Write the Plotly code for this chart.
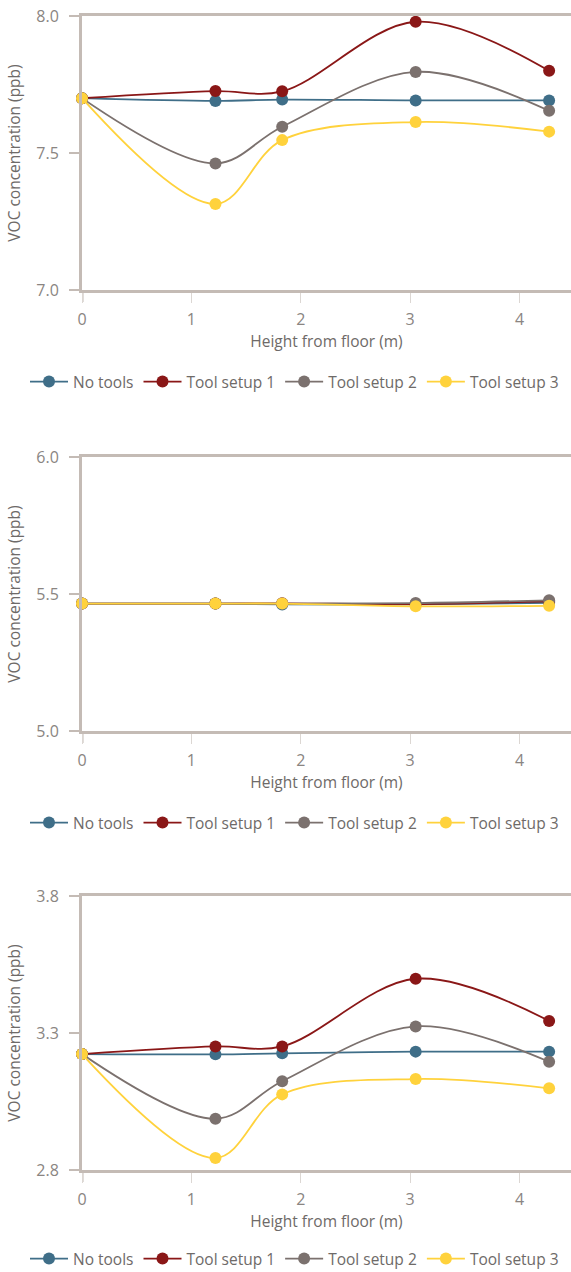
import plotly.graph_objects as go

# Measurement heights (m)
heights = [0, 1.22, 1.83, 3.05, 4.27]

series_names = ["No tools", "Tool setup 1", "Tool setup 2", "Tool setup 3"]
series_colors = ["#3f6e88", "#8a1717", "#7b716e", "#ffd23c"]

# Panel 1 — VOC concentration (ppb)
p1_no_tools = [7.70, 7.69, 7.695, 7.692, 7.692]
p1_setup1 = [7.70, 7.726, 7.725, 7.979, 7.80]
p1_setup2 = [7.70, 7.462, 7.596, 7.796, 7.654]
p1_setup3 = [7.70, 7.314, 7.547, 7.613, 7.578]

# Panel 2
p2_no_tools = [5.465, 5.465, 5.462, 5.462, 5.468]
p2_setup1 = [5.465, 5.465, 5.466, 5.463, 5.473]
p2_setup2 = [5.465, 5.465, 5.465, 5.467, 5.477]
p2_setup3 = [5.465, 5.465, 5.465, 5.455, 5.457]

# Panel 3
p3_no_tools = [3.223, 3.222, 3.226, 3.232, 3.232]
p3_setup1 = [3.223, 3.251, 3.251, 3.498, 3.344]
p3_setup2 = [3.223, 2.987, 3.124, 3.324, 3.195]
p3_setup3 = [3.223, 2.844, 3.076, 3.132, 3.098]

panels = [
    [p1_no_tools, p1_setup1, p1_setup2, p1_setup3],
    [p2_no_tools, p2_setup1, p2_setup2, p2_setup3],
    [p3_no_tools, p3_setup1, p3_setup2, p3_setup3],
]
y_ranges = [[7.0, 8.0], [5.0, 6.0], [2.8, 3.8]]
y_ticks = [[7.0, 7.5, 8.0], [5.0, 5.5, 6.0], [2.8, 3.3, 3.8]]
y_ticklabels = [["7.0", "7.5", "8.0"], ["5.0", "5.5", "6.0"], ["2.8", "3.3", "3.8"]]

x_ticks = [0, 1, 2, 3, 4]

FONT = "Open Sans"
TEXT = "#6e6a68"
TICKTEXT = "#8a8582"
AXIS = "#c4bbb5"
TICK_LIGHT = "#dcd7d3"

W, H = 571, 1272
M_T, M_B = 16, 102
AXIS_LEFT = 82  # left edge of each plotting area, px
plot_h = H - M_T - M_B

def py(pix):
    # pixel row -> paper y
    return (H - M_B - pix) / plot_h

def px(pix):
    # pixel column -> paper x
    return pix / W

domains = [[py(290), 1.0], [py(731), py(457)], [0.0, py(896)]]
legend_y = [py(382), py(823), py(1259)]

fig = go.Figure()
layout = dict(
    width=W, height=H,
    margin=dict(t=M_T, b=M_B, l=0, r=0, autoexpand=False),
    paper_bgcolor="white", plot_bgcolor="white",
    font=dict(family=FONT, color=TEXT, size=15),
    hovermode=False,
)

shapes = []
for i, data in enumerate(panels):
    n = "" if i == 0 else str(i + 1)
    xa, ya = "x" + n, "y" + n
    leg = "legend" + n
    for name, color, vals in zip(series_names, series_colors, data):
        fig.add_trace(go.Scatter(
            x=heights, y=vals, name=name, mode="lines+markers",
            line=dict(color=color, width=1.8, shape="spline", smoothing=1),
            marker=dict(color=color, size=12),
            xaxis=xa, yaxis=ya, legend=leg, cliponaxis=False,
        ))
    layout["xaxis" + n] = dict(
        domain=[px(AXIS_LEFT), 1], anchor=ya, range=[0, 4.47], automargin=False,
        tickvals=x_ticks, ticktext=[str(t) for t in x_ticks],
        showgrid=False, zeroline=False,
        showline=True, linecolor=AXIS, linewidth=3, mirror=True,
        ticks="outside", ticklen=10, tickwidth=1, tickcolor=TICK_LIGHT,
        ticklabelstandoff=3,
        tickfont=dict(size=16, color=TICKTEXT),
        title=dict(text="Height from floor (m)", font=dict(size=15.5, color=TEXT), standoff=2),
    )
    layout["yaxis" + n] = dict(
        domain=domains[i], anchor=xa, range=y_ranges[i], automargin=False,
        tickvals=y_ticks[i], ticktext=y_ticklabels[i],
        showgrid=False, zeroline=False,
        showline=True, linecolor=AXIS, linewidth=3,
        ticks="outside", ticklen=10, tickwidth=2, tickcolor=AXIS,
        ticklabelstandoff=7,
        tickfont=dict(size=16, color=TICKTEXT),
        title=dict(text="VOC concentration (ppb)", font=dict(size=15.5, color=TEXT), standoff=12),
    )
    layout[leg] = dict(
        orientation="h", x=px(25), xanchor="left", y=legend_y[i], yanchor="middle",
        font=dict(size=15.5, color=TEXT), bgcolor="rgba(0,0,0,0)",
        itemwidth=38,
        itemclick=False, itemdoubleclick=False,
    )
    # y-axis line continues a little below the plot floor
    shapes.append(dict(
        type="line", xref=xa, yref=ya + " domain",
        xsizemode="scaled", ysizemode="pixel", yanchor=0,
        x0=0, x1=0, y0=0, y1=-12,
        line=dict(color=AXIS, width=3), layer="below",
    ))

layout["shapes"] = shapes
fig.update_layout(**layout)
fig.write_html("out.html")
